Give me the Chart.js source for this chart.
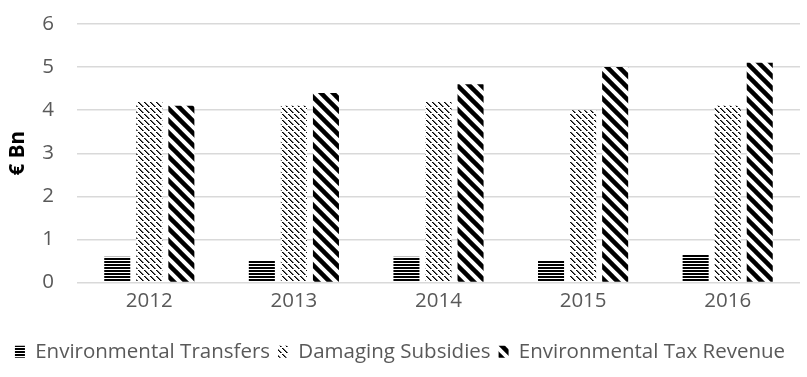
<!DOCTYPE html>
<html>
<head>
<meta charset="utf-8">
<script src="https://cdn.jsdelivr.net/npm/chart.js@4"></script>
<style>
  html, body { margin: 0; padding: 0; background: #fff; }
  #wrap { width: 807px; height: 377px; }
</style>
</head>
<body>
<div id="wrap"><canvas id="chart" width="807" height="377"></canvas></div>
<script>
// Environmental transfers, damaging subsidies and environmental tax revenue, € Bn
const categories = ['2012', '2013', '2014', '2015', '2016'];
const seriesNames = ['Environmental Transfers', 'Damaging Subsidies', 'Environmental Tax Revenue'];
const transfers = [0.6, 0.5, 0.6, 0.5, 0.65];
const subsidies = [4.2, 4.1, 4.2, 4.0, 4.1];
const taxRevenue = [4.1, 4.4, 4.6, 5.0, 5.1];
const yTickValues = [0, 1, 2, 3, 4, 5, 6];

const FONT = "'Open Sans', sans-serif";
const FONT_SIZE = 20.5;

function makeTile(size, draw) {
  const c = document.createElement('canvas');
  c.width = size; c.height = size;
  const g = c.getContext('2d');
  g.fillStyle = '#fff';
  g.fillRect(0, 0, size, size);
  draw(g, size);
  return document.getElementById('chart').getContext('2d').createPattern(c, 'repeat');
}

// dense horizontal lines
const horizontalPattern = makeTile(3, (g, s) => {
  g.fillStyle = '#000';
  g.fillRect(0, 0, s, 2);
});

// fine dashed downward diagonal
const dashedDiagPattern = makeTile(6, (g, s) => {
  g.fillStyle = '#000';
  for (let i = 0; i < s - 1; i++) {
    g.fillRect(i, i, 1.6, 1);
  }
});

// wide downward diagonal stripes
const wideDiagPattern = makeTile(12, (g, s) => {
  g.strokeStyle = '#000';
  g.lineWidth = 4.5;
  for (let k = -1; k <= 1; k++) {
    g.beginPath();
    g.moveTo(k * s - 2, -2);
    g.lineTo(k * s + s + 2, s + 2);
    g.stroke();
  }
});

const seriesValues = [transfers, subsidies, taxRevenue];
const seriesFills = [horizontalPattern, dashedDiagPattern, wideDiagPattern];

new Chart(document.getElementById('chart'), {
  type: 'bar',
  data: {
    labels: categories,
    datasets: seriesNames.map((name, i) => ({
      label: name,
      data: seriesValues[i],
      backgroundColor: seriesFills[i],
      borderWidth: 0,
      categoryPercentage: 0.665,
      barPercentage: 0.8125
    }))
  },
  options: {
    responsive: false,
    animation: false,
    devicePixelRatio: 1,
    layout: { padding: { top: 24, right: 7, bottom: 5, left: 0 } },
    plugins: {
      tooltip: { enabled: false },
      legend: {
        position: 'bottom',
        labels: {
          color: '#595959',
          font: { family: FONT, size: FONT_SIZE },
          boxWidth: 10,
          boxHeight: 12,
          padding: 8
        }
      }
    },
    scales: {
      x: {
        afterFit: (axis) => { axis.height = 51; },
        grid: { display: false, drawTicks: false },
        border: { display: false },
        ticks: { color: '#595959', font: { family: FONT, size: FONT_SIZE }, padding: 6 }
      },
      y: {
        min: 0,
        max: 6,
        afterBuildTicks: (axis) => { axis.ticks = yTickValues.map(v => ({ value: v })); },
        afterFit: (axis) => {
          axis.width = 77;
          axis.paddingTop = 0;
          axis.paddingBottom = 0;
        },
        grid: { color: '#d9d9d9', lineWidth: 1.5, drawTicks: false },
        border: { display: false },
        ticks: { color: '#595959', font: { family: FONT, size: FONT_SIZE }, padding: 23 },
        title: {
          display: true,
          text: '€ Bn',
          color: '#000',
          font: { family: FONT, size: FONT_SIZE, weight: 'bold' },
          padding: { top: 6, bottom: 0 }
        }
      }
    }
  }
});
</script>
</body>
</html>
